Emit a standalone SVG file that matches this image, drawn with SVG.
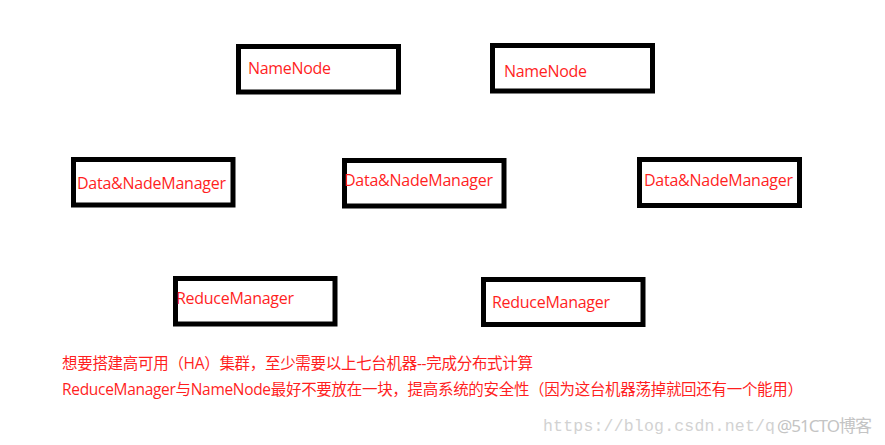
<svg xmlns="http://www.w3.org/2000/svg" width="885" height="445" viewBox="0 0 885 445">
<style>
.box{fill:#fff;stroke:#000;stroke-width:5}
.lbl{fill:#ff1f1f;font-family:"Open Sans","Noto Sans",sans-serif;font-size:16px}
.note{fill:#ff1f1f;font-family:"Open Sans","Noto Sans CJK SC",sans-serif;font-size:15.5px}
.wm{fill:#d2d2d2;font-family:"Liberation Mono",monospace;font-size:16.5px}
.wm2{fill:#c4c4c4;font-family:"Noto Sans","Noto Sans CJK SC",sans-serif;font-size:17px}
</style>
<rect width="885" height="445" fill="#fff"/>
<g id="namenode1"><rect class="box" x="238.5" y="46.5" width="160" height="45.5"/><text class="lbl" x="248" y="74" textLength="83">NameNode</text></g>
<g id="namenode2"><rect class="box" x="492.5" y="45.5" width="160" height="45.5"/><text class="lbl" x="504" y="77" textLength="83">NameNode</text></g>
<g id="datanode1"><rect class="box" x="73.5" y="159.5" width="159.5" height="45.5"/><text class="lbl" x="77" y="189" textLength="149">Data&amp;NadeManager</text></g>
<g id="datanode2"><rect class="box" x="344.5" y="160.5" width="159.5" height="45.5"/><text class="lbl" x="344" y="186" textLength="149">Data&amp;NadeManager</text></g>
<g id="datanode3"><rect class="box" x="639.5" y="159.5" width="160" height="46"/><text class="lbl" x="644" y="186" textLength="149">Data&amp;NadeManager</text></g>
<g id="reduce1"><rect class="box" x="175.5" y="278.5" width="159.5" height="45.5"/><text class="lbl" x="176" y="304" textLength="118">ReduceManager</text></g>
<g id="reduce2"><rect class="box" x="483.5" y="279.5" width="159.5" height="45"/><text class="lbl" x="492" y="308" textLength="118">ReduceManager</text></g>
<g id="connectors"></g>
<g id="notes">
<text class="note" x="62" y="369" textLength="471">想要搭建高可用（HA）集群，至少需要以上七台机器--完成分布式计算</text>
<text class="note" x="62" y="395" textLength="741">ReduceManager与NameNode最好不要放在一块，提高系统的安全性（因为这台机器荡掉就回还有一个能用）</text>
</g>
<g id="watermark">
<text class="wm" x="543" y="431" textLength="232">https://blog.csdn.net/q</text>
<text class="wm2" x="777" y="432" textLength="95">@51CTO博客</text>
</g>
</svg>
